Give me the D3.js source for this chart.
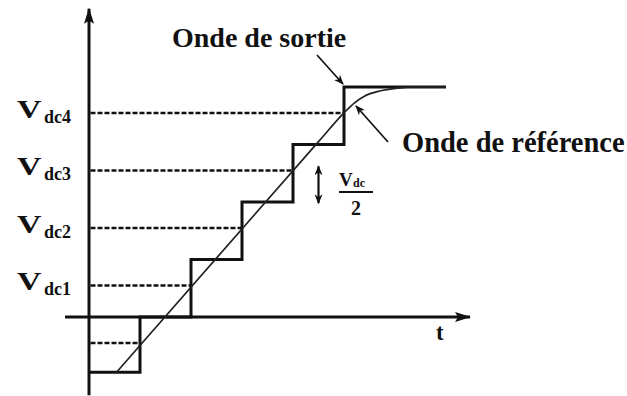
<!DOCTYPE html>
<html>
<head>
<meta charset="utf-8">
<script src="https://cdn.jsdelivr.net/npm/d3@7"></script>
<style>
  html, body { margin: 0; padding: 0; background: #fff; }
  svg { display: block; }
  text { font-family: "Liberation Serif", "DejaVu Serif", serif; font-weight: bold; fill: #111; }
</style>
</head>
<body>
<div id="chart"></div>
<script>
// staircase (output wave): switching instants and levels, in units of Vdc/2
const stepTimes = [0, 1, 2, 3, 4, 5, 7];
const stepLevels = [-0.96, 0, 1, 2, 3, 4, 4];

// reference wave
const refTimes = [0.54, 4.5, 5, 5.2, 5.4, 5.7, 6.05, 6.4, 7];
const refValues = [-0.96, 3.05, 3.55, 3.72, 3.84, 3.93, 3.98, 4, 4];

// dashed comparison levels and where they meet the staircase
const dashLevels = [-0.45, 0.55, 1.55, 2.55, 3.55];
const dashEnds = [1, 2, 3, 4, 5];
const dashLabels = ["", "dc1", "dc2", "dc3", "dc4"];

const width = 627, height = 396;

const x = d3.scaleLinear().domain([0, 5]).range([89, 344]);
const y = d3.scaleLinear().domain([0, 4]).range([317, 87]);

const svg = d3.select("#chart").append("svg")
  .attr("width", width)
  .attr("height", height);

const defs = svg.append("defs");
defs.append("marker")
  .attr("id", "axisHead")
  .attr("viewBox", "0 0 16 10")
  .attr("refX", 15).attr("refY", 5)
  .attr("markerWidth", 16).attr("markerHeight", 10)
  .attr("markerUnits", "userSpaceOnUse")
  .attr("orient", "auto")
  .append("path")
  .attr("d", "M0,0 L16,5 L0,10 L3,5 Z")
  .attr("fill", "#111");

defs.append("marker")
  .attr("id", "noteHead")
  .attr("viewBox", "0 0 10 8")
  .attr("refX", 9).attr("refY", 4)
  .attr("markerWidth", 10).attr("markerHeight", 8)
  .attr("markerUnits", "userSpaceOnUse")
  .attr("orient", "auto-start-reverse")
  .append("path")
  .attr("d", "M0,0 L10,4 L0,8 L3,4 Z")
  .attr("fill", "#111");

// axes
svg.append("line")
  .attr("x1", x(-0.47)).attr("y1", y(0))
  .attr("x2", x(7.47)).attr("y2", y(0))
  .attr("stroke", "#111").attr("stroke-width", 3)
  .attr("marker-end", "url(#axisHead)");

svg.append("line")
  .attr("x1", x(0)).attr("y1", y(-1.36))
  .attr("x2", x(0)).attr("y2", y(5.36))
  .attr("stroke", "#111").attr("stroke-width", 3)
  .attr("marker-end", "url(#axisHead)");

// dashed levels
svg.selectAll(".dash")
  .data(dashLevels)
  .enter()
  .append("line")
  .attr("class", "dash")
  .attr("x1", x(0) + 1.5)
  .attr("x2", (d, i) => x(dashEnds[i]))
  .attr("y1", d => y(d))
  .attr("y2", d => y(d))
  .attr("stroke", "#111")
  .attr("stroke-width", 2.5)
  .attr("stroke-dasharray", "5,2");

// level labels V_dcN
const labels = svg.selectAll(".lvl")
  .data(dashLevels.filter((d, i) => dashLabels[i]))
  .enter()
  .append("g")
  .attr("class", "lvl");

labels.append("text")
  .attr("transform", d => `translate(17, ${y(d) + 5}) scale(1.3, 1)`)
  .style("font-size", "26px")
  .text("V");

labels.append("text")
  .attr("x", 44)
  .attr("y", d => y(d) + 10)
  .style("font-size", "18px")
  .text((d, i) => dashLabels[i + 1]);

// output staircase
const stepLine = d3.line()
  .x(d => x(d[0]))
  .y(d => y(d[1]))
  .curve(d3.curveStepAfter);

svg.append("path")
  .datum(stepTimes.map((t, i) => [t, stepLevels[i]]))
  .attr("d", stepLine)
  .attr("fill", "none")
  .attr("stroke", "#111")
  .attr("stroke-width", 3);

// reference wave
const refLine = d3.line()
  .x(d => x(d[0]))
  .y(d => y(d[1]))
  .curve(d3.curveMonotoneX);

svg.append("path")
  .datum(refTimes.map((t, i) => [t, refValues[i]]))
  .attr("d", refLine)
  .attr("fill", "none")
  .attr("stroke", "#222")
  .attr("stroke-width", 1.7);

// Vdc/2 marker
svg.append("line")
  .attr("x1", x(4.5)).attr("y1", y(2.62))
  .attr("x2", x(4.5)).attr("y2", y(1.98))
  .attr("stroke", "#111").attr("stroke-width", 2.2)
  .attr("marker-start", "url(#noteHead)")
  .attr("marker-end", "url(#noteHead)");

svg.append("text").attr("x", 339).attr("y", 186).style("font-size", "19px").text("V");
svg.append("text").attr("x", 353).attr("y", 187).style("font-size", "12px").text("dc");
svg.append("line")
  .attr("x1", 339).attr("x2", 373).attr("y1", 192).attr("y2", 192)
  .attr("stroke", "#111").attr("stroke-width", 1.8);
svg.append("text").attr("x", 356).attr("y", 215).attr("text-anchor", "middle")
  .style("font-size", "20px").text("2");

// annotations
svg.append("text").attr("x", 172).attr("y", 47).style("font-size", "28px").text("Onde de sortie");
svg.append("line")
  .attr("x1", 317).attr("y1", 55).attr("x2", x(5) - 1).attr("y2", y(4) - 3)
  .attr("stroke", "#111").attr("stroke-width", 1.7)
  .attr("marker-end", "url(#noteHead)");

svg.append("text").attr("x", 402).attr("y", 152).style("font-size", "28.5px").text("Onde de référence");
svg.append("line")
  .attr("x1", 388).attr("y1", 142).attr("x2", 356).attr("y2", 106)
  .attr("stroke", "#111").attr("stroke-width", 1.7)
  .attr("marker-end", "url(#noteHead)");

svg.append("text").attr("x", 436).attr("y", 340).style("font-size", "23px").text("t");
</script>
</body>
</html>
